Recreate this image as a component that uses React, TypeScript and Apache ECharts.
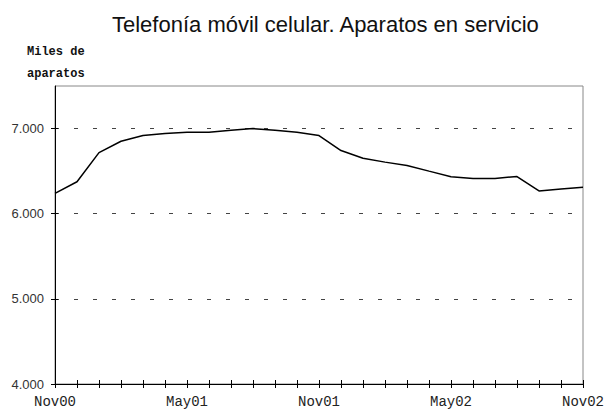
import React, { useEffect, useRef } from "react";
import * as echarts from "echarts";

const months = [
  "Nov00", "Dic00", "Ene01", "Feb01", "Mar01", "Abr01", "May01", "Jun01", "Jul01",
  "Ago01", "Sep01", "Oct01", "Nov01", "Dic01", "Ene02", "Feb02", "Mar02", "Abr02",
  "May02", "Jun02", "Jul02", "Ago02", "Sep02", "Oct02", "Nov02",
];
const shownLabels = ["Nov00", "May01", "Nov01", "May02", "Nov02"];
const aparatos = [
  6239, 6375, 6718, 6851, 6918, 6942, 6957, 6957, 6980, 7000, 6980, 6957, 6918,
  6742, 6652, 6606, 6567, 6500, 6435, 6415, 6415, 6437, 6267, 6290, 6310,
];
const yTicks = [4000, 5000, 6000, 7000];
const titleText = "Telefonía móvil celular. Aparatos en servicio";
const yName = "Miles de\naparatos";

export default function App() {
  const ref = useRef<HTMLDivElement>(null);
  useEffect(() => {
    const chart = echarts.init(ref.current!, null, { renderer: "svg" });
    const fmt = (v: number) => {
      const s = String(Math.round(v));
      return s.length > 3 ? s.slice(0, s.length - 3) + "." + s.slice(-3) : s;
    };
    const baseX = {
      type: "category" as const,
      data: months,
      boundaryGap: false,
      position: "bottom" as const,
    };
    const baseY = {
      type: "value" as const,
      min: 4000,
      max: 7500,
      interval: 1000,
      position: "left" as const,
    };
    chart.setOption({
      animation: false,
      backgroundColor: "#ffffff",
      title: {
        text: titleText,
        left: 107,
        top: 8,
        textStyle: {
          fontFamily: "Liberation Sans",
          fontSize: 22,
          fontWeight: "normal",
          color: "#111",
        },
      },
      graphic: [
        {
          type: "text",
          left: 27,
          top: 41,
          style: {
            text: yName,
            fontFamily: "Liberation Mono",
            fontWeight: "bold",
            fontSize: 12,
            lineHeight: 22,
            fill: "#111",
          },
        },
      ],
      grid: {
        left: 55,
        right: 27,
        top: 86,
        bottom: 26,
        show: true,
        borderColor: "#888",
        borderWidth: 1,
      },
      xAxis: [
        {
          ...baseX,
          axisLine: { show: true, lineStyle: { color: "#000", width: 1 } },
          axisTick: {
            show: true,
            interval: 0,
            length: 4,
            lineStyle: { color: "#000" },
          },
          axisLabel: {
            interval: 0,
            formatter: (v: string) => (shownLabels.includes(v) ? v : ""),
            fontFamily: "Liberation Mono",
            fontSize: 14,
            color: "#222",
            margin: 11,
          },
          splitLine: { show: false },
        },
        {
          ...baseX,
          axisLine: { show: false },
          axisTick: {
            show: true,
            inside: true,
            interval: 0,
            length: 4,
            lineStyle: { color: "#000" },
          },
          axisLabel: { show: false },
          splitLine: { show: false },
        },
      ],
      yAxis: [
        {
          ...baseY,
          axisLine: { show: true, lineStyle: { color: "#000", width: 1 } },
          axisTick: {
            show: true,
            length: 4,
            customValues: yTicks,
            lineStyle: { color: "#000" },
          },
          axisLabel: {
            customValues: yTicks,
            formatter: (v: number) => (v > 7000 ? "" : fmt(v)),
            fontFamily: "Liberation Sans",
            fontSize: 13,
            color: "#333",
            margin: 11,
          },
          splitLine: {
            show: true,
            lineStyle: { color: "#444", type: [4, 15], width: 1 },
          },
        },
        {
          ...baseY,
          axisLine: { show: false },
          axisTick: {
            show: true,
            inside: true,
            length: 3,
            customValues: yTicks,
            lineStyle: { color: "#000" },
          },
          axisLabel: { show: false },
          splitLine: { show: false },
        },
      ],
      series: [
        {
          type: "line",
          data: aparatos,
          xAxisIndex: 0,
          yAxisIndex: 0,
          showSymbol: false,
          symbol: "none",
          lineStyle: { color: "#000", width: 1.5 },
          z: 5,
        },
      ],
    });
    return () => chart.dispose();
  }, []);
  return (
    <div
      ref={ref}
      style={{ position: "absolute", left: 0, top: 0, width: 610, height: 410 }}
    />
  );
}
